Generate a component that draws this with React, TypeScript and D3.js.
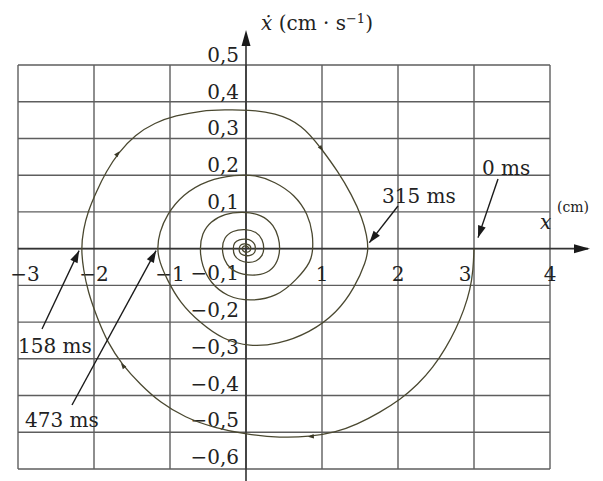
import React, { useEffect, useRef } from "react";
import * as d3 from "d3";

// tick labels on the two axes
const xTicks = [-3, -2, -1, 1, 2, 3, 4];
const vTicks = [0.5, 0.4, 0.3, 0.2, 0.1, -0.1, -0.2, -0.3, -0.4, -0.5, -0.6];

// phase trajectory: x (cm), velocity (cm/s), one half-turn per row
const spiralX = [
  3.0, 2.99, 2.95, 2.87, 2.76, 2.63, 2.46, 2.26, 2.03, 1.76, 1.46, 1.17, 0.84, 0.45, 0.01, -0.43, -0.8, -1.13, -1.39, -1.63, -1.82, -1.96, -2.08, -2.14, -2.17,
  -2.14, -2.08, -1.97, -1.84, -1.68, -1.46, -1.2, -0.93, -0.58, -0.28, 0.03, 0.38, 0.74, 1.0, 1.21, 1.39, 1.53, 1.59, 1.61,
  1.58, 1.43, 1.2, 0.84, 0.41, 0.05, -0.3, -0.61, -0.87, -1.04, -1.14, -1.17,
  -1.14, -1.04, -0.84, -0.5, -0.14, 0.12, 0.38, 0.64, 0.82, 0.88, 0.88,
  0.86, 0.67, 0.41, 0.05, -0.25, -0.47, -0.58, -0.61,
  -0.58, -0.47, -0.28, -0.05, 0.21, 0.37, 0.43, 0.45,
  0.42, 0.32, 0.14, -0.04, -0.21, -0.29, -0.32,
  -0.29, -0.18, -0.01, 0.14, 0.22, 0.24,
  0.22, 0.14, 0.03, -0.09, -0.16, -0.17,
  -0.16, -0.09, 0.0, 0.08, 0.12, 0.125,
  0.12, 0.066, 0.0, -0.066, -0.09, -0.09,
  -0.08, -0.026, 0.026, 0.06, 0.066,
  0.053, 0.0, -0.04, -0.053,
  -0.04, 0.0, 0.033, 0.04,
];
const spiralV = [
  0, -0.057, -0.112, -0.166, -0.22, -0.27, -0.324, -0.37, -0.411, -0.446, -0.479, -0.501, -0.512, -0.515, -0.506, -0.487, -0.46, -0.419, -0.37, -0.316, -0.256, -0.188, -0.117, -0.057, 0,
  0.052, 0.101, 0.155, 0.21, 0.261, 0.31, 0.343, 0.362, 0.376, 0.378, 0.378, 0.37, 0.338, 0.27, 0.21, 0.147, 0.084, 0.035, 0,
  -0.035, -0.106, -0.174, -0.229, -0.261, -0.267, -0.248, -0.201, -0.147, -0.084, -0.035, 0,
  0.044, 0.093, 0.147, 0.188, 0.201, 0.201, 0.182, 0.147, 0.093, 0.038, 0,
  -0.035, -0.084, -0.131, -0.144, -0.131, -0.093, -0.046, 0,
  0.041, 0.074, 0.095, 0.101, 0.093, 0.063, 0.03, 0,
  -0.035, -0.063, -0.074, -0.071, -0.057, -0.03, 0,
  0.03, 0.049, 0.054, 0.046, 0.025, 0,
  -0.019, -0.035, -0.039, -0.033, -0.019, 0,
  0.016, 0.025, 0.027, 0.022, 0.011, 0,
  -0.011, -0.019, -0.02, -0.016, -0.008, 0,
  0.01, 0.014, 0.012, 0.007, 0,
  -0.008, -0.011, -0.007, 0,
  0.007, 0.008, 0.004, 0,
];

// small direction arrows on the outer turn (indices into the trajectory)
const dirIndex = [12, 19, 29, 38];

// time marks and the x where each one meets the x axis
const markText = ["0 ms", "315 ms", "158 ms", "473 ms"];
const markX = [3.0, 1.61, -2.17, -1.17];

const W = 603;
const H = 481;

const App = () => {
  const svgRef = useRef<SVGSVGElement>(null);

  useEffect(() => {
    const svg = d3.select(svgRef.current);
    svg.selectAll("*").remove();

    const x = d3.scaleLinear().domain([-3, 4]).range([18, 550]);
    const y = d3.scaleLinear().domain([-0.6, 0.5]).range([469, 65]);
    const font = "DejaVu Serif, Liberation Serif, serif";

    svg.append("rect").attr("width", W).attr("height", H).attr("fill", "#fff");

    // grid
    const grid = svg.append("g").attr("stroke", "#5e5e5e").attr("stroke-width", 1.4);
    grid.selectAll("line.v")
      .data(d3.range(-3, 5))
      .join("line")
      .attr("x1", d => x(d)).attr("x2", d => x(d))
      .attr("y1", y(0.5)).attr("y2", y(-0.6));
    grid.selectAll("line.h")
      .data(d3.range(-6, 6).map(d => d / 10))
      .join("line")
      .attr("x1", x(-3)).attr("x2", x(4))
      .attr("y1", d => y(d)).attr("y2", d => y(d));

    const arrowHead = (g, x1, y1, x2, y2, len, half, fill = "#1a1a1a") => {
      const a = Math.atan2(y2 - y1, x2 - x1);
      const bx = x2 - len * Math.cos(a), by = y2 - len * Math.sin(a);
      const px = -Math.sin(a) * half, py = Math.cos(a) * half;
      g.append("path")
        .attr("d", `M${x2},${y2}L${bx + px},${by + py}L${bx - px},${by - py}Z`)
        .attr("fill", fill);
    };

    // axes
    const axes = svg.append("g");
    axes.append("line")
      .attr("x1", x(-3)).attr("x2", 588).attr("y1", y(0)).attr("y2", y(0))
      .attr("stroke", "#333").attr("stroke-width", 1.6);
    arrowHead(axes, 560, y(0), 590, y(0), 16, 4.5);
    axes.append("line")
      .attr("x1", x(0)).attr("x2", x(0)).attr("y1", H).attr("y2", 34)
      .attr("stroke", "#333").attr("stroke-width", 1.6);
    arrowHead(axes, x(0), 60, x(0), 30, 16, 4.5);

    // tick labels
    svg.append("g")
      .selectAll("text")
      .data(vTicks)
      .join("text")
      .attr("x", x(0) - 7)
      .attr("y", d => y(d) - (d > 0 ? 3 : 5))
      .attr("text-anchor", "end")
      .attr("font-family", font)
      .attr("font-size", 20)
      .attr("fill", "#222")
      .text(d => d3.format(".1f")(d).replace(".", ",").replace("-", "\u2212"));

    svg.append("g")
      .selectAll("text")
      .data(xTicks)
      .join("text")
      .attr("x", d => x(d) + (d === -3 ? 7 : d === 3 ? -9 : 0))
      .attr("y", 281)
      .attr("text-anchor", "middle")
      .attr("font-family", font)
      .attr("font-size", 20)
      .attr("fill", "#222")
      .text(d => String(d).replace("-", "\u2212"));

    // axis titles
    const yt = svg.append("text")
      .attr("x", 261).attr("y", 30)
      .attr("font-family", font).attr("font-size", 20).attr("fill", "#222");
    yt.append("tspan").attr("font-style", "italic").text("\u1E8B");
    yt.append("tspan").text(" (cm \u00B7 s");
    yt.append("tspan").attr("dy", -7).attr("font-size", 13).text("\u22121");
    yt.append("tspan").attr("dy", 7).text(")");

    svg.append("text")
      .attr("x", 540).attr("y", 229)
      .attr("font-family", font).attr("font-style", "italic").attr("font-size", 20)
      .attr("fill", "#222").text("x");
    svg.append("text")
      .attr("x", 557).attr("y", 212)
      .attr("font-family", font).attr("font-size", 14)
      .attr("fill", "#222").text("(cm)");

    // trajectory
    const pts = spiralX.map((d, i) => [x(d), y(spiralV[i])] as [number, number]);
    const line = d3.line().curve(d3.curveBasis);
    svg.append("path")
      .attr("d", line(pts))
      .attr("fill", "none")
      .attr("stroke", "#4a4830")
      .attr("stroke-width", 1.3);

    // direction of motion along the outer turn
    const dirs = svg.append("g");
    dirIndex.forEach(i => {
      const [x0, y0] = pts[i - 1];
      const [x1, y1] = pts[i];
      const [x2, y2] = pts[i + 1];
      const ang = Math.atan2(y2 - y0, x2 - x0);
      arrowHead(dirs, x1 - Math.cos(ang) * 5, y1 - Math.sin(ang) * 5, x1 + Math.cos(ang) * 2, y1 + Math.sin(ang) * 2, 6, 2.2, "#3a3826");
    });

    // time annotations: text start, text baseline, arrow tail, tip offset from the axis crossing
    const layout = [
      { tx: 482, ty: 175, x1: 498, y1: 179, dx: 4, dy: -11 },
      { tx: 382, ty: 203, x1: 398, y1: 206, dx: 1, dy: -6 },
      { tx: 18, ty: 353, x1: 42, y1: 329, dx: -2, dy: 2 },
      { tx: 25, ty: 427, x1: 72, y1: 405, dx: -1, dy: 2 },
    ];
    const ann = svg.append("g");
    markText.forEach((t, i) => {
      const l = layout[i];
      const tipX = x(markX[i]) + l.dx;
      const tipY = y(0) + l.dy;
      ann.append("line")
        .attr("x1", l.x1).attr("y1", l.y1).attr("x2", tipX).attr("y2", tipY)
        .attr("stroke", "#1a1a1a").attr("stroke-width", 1.4);
      arrowHead(ann, l.x1, l.y1, tipX, tipY, 12, 4);
      ann.append("text")
        .attr("x", l.tx).attr("y", l.ty)
        .attr("font-family", font).attr("font-size", 20)
        .attr("fill", "#222").text(t);
    });
  }, []);

  return (
    <svg
      ref={svgRef}
      width={W}
      height={H}
      style={{ position: "absolute", left: 0, top: 0, display: "block" }}
    ></svg>
  );
};

export default App;
